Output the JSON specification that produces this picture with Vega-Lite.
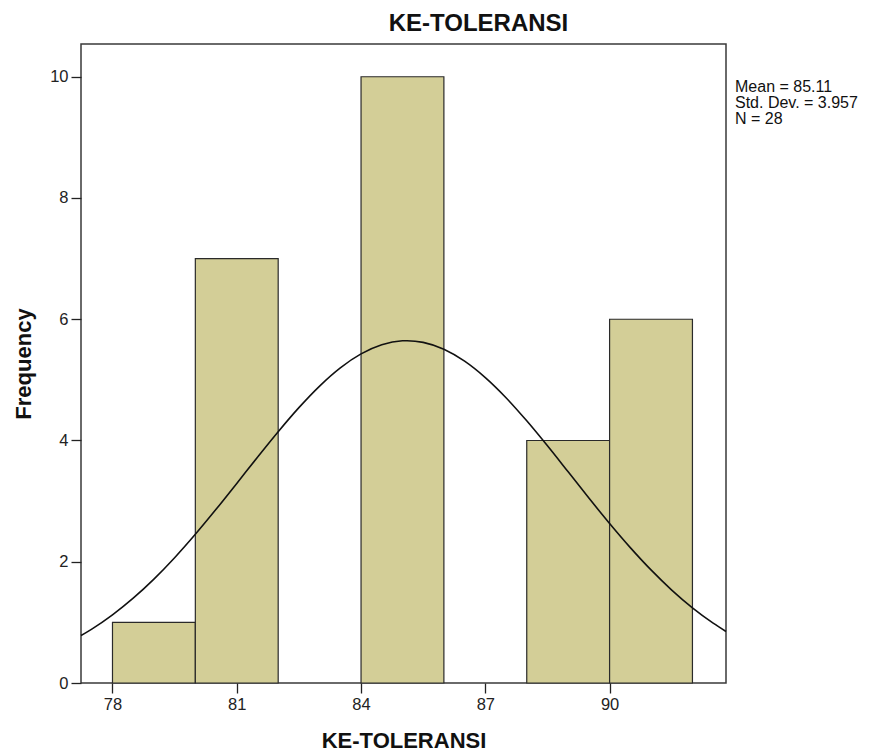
{
  "$schema": "https://vega.github.io/schema/vega-lite/v6.json",
  "width": 645,
  "height": 639,
  "padding": {"left": 12, "top": 12, "right": 0, "bottom": 5},
  "background": "white",
  "title": {"text": "KE-TOLERANSI", "font": "Liberation Sans", "fontSize": 24, "fontWeight": "bold", "color": "#111", "anchor": "middle", "dx": 75, "offset": 8},
  "config": {
    "view": {"fill": "#f0f0f0", "stroke": "#3a3a3a", "strokeWidth": 1.5},
    "axis": {"labelFont": "Liberation Sans", "labelFontSize": 16.5, "labelColor": "#222", "titleFont": "Liberation Sans", "titleFontSize": 22, "titleFontWeight": "bold", "titleColor": "#111", "domain": false, "grid": false, "tickColor": "#222", "tickSize": 10, "tickWidth": 1.3, "labelPadding": 3},
    "legend": {"labelFont": "Liberation Sans", "labelFontSize": 16, "labelColor": "#111"}
  },
  "layer": [
    {
      "data": {"values": [
        {"bin_start": 78, "bin_end": 80, "count": 1},
        {"bin_start": 80, "bin_end": 82, "count": 7},
        {"bin_start": 84, "bin_end": 86, "count": 10},
        {"bin_start": 88, "bin_end": 90, "count": 4},
        {"bin_start": 90, "bin_end": 92, "count": 6}
      ]},
      "mark": {"type": "rect", "fill": "#d3ce97", "stroke": "#2a2a2a", "strokeWidth": 1.2},
      "encoding": {
        "x": {"field": "bin_start", "type": "quantitative", "scale": {"domain": [77.24, 92.81], "nice": false, "zero": false}, "axis": {"values": [78, 81, 84, 87, 90], "title": "KE-TOLERANSI", "titlePadding": 18}},
        "x2": {"field": "bin_end"},
        "y": {"field": "count", "type": "quantitative", "scale": {"domain": [0, 10.54], "nice": false}, "axis": {"values": [0, 2, 4, 6, 8, 10], "title": "Frequency", "titlePadding": 14}}
      }
    },
    {
      "data": {"values": [
        {"x": 77.24, "density": 0.783},
        {"x": 77.5, "density": 0.889},
        {"x": 78, "density": 1.124},
        {"x": 78.5, "density": 1.399},
        {"x": 79, "density": 1.714},
        {"x": 79.5, "density": 2.067},
        {"x": 80, "density": 2.453},
        {"x": 80.5, "density": 2.864},
        {"x": 81, "density": 3.292},
        {"x": 81.5, "density": 3.724},
        {"x": 82, "density": 4.145},
        {"x": 82.5, "density": 4.542},
        {"x": 83, "density": 4.898},
        {"x": 83.5, "density": 5.198},
        {"x": 84, "density": 5.428},
        {"x": 84.5, "density": 5.579},
        {"x": 85, "density": 5.644},
        {"x": 85.11, "density": 5.646},
        {"x": 85.5, "density": 5.619},
        {"x": 86, "density": 5.505},
        {"x": 86.5, "density": 5.308},
        {"x": 87, "density": 5.037},
        {"x": 87.5, "density": 4.705},
        {"x": 88, "density": 4.324},
        {"x": 88.5, "density": 3.912},
        {"x": 89, "density": 3.483},
        {"x": 89.5, "density": 3.051},
        {"x": 90, "density": 2.631},
        {"x": 90.5, "density": 2.233},
        {"x": 91, "density": 1.865},
        {"x": 91.5, "density": 1.533},
        {"x": 92, "density": 1.24},
        {"x": 92.5, "density": 0.987},
        {"x": 92.81, "density": 0.85}
      ]},
      "mark": {"type": "line", "color": "#111", "strokeWidth": 1.6, "interpolate": "monotone"},
      "encoding": {
        "x": {"field": "x", "type": "quantitative", "scale": {"domain": [77.24, 92.81], "nice": false, "zero": false}, "axis": {"values": [78, 81, 84, 87, 90], "title": "KE-TOLERANSI", "titlePadding": 18}},
        "y": {"field": "density", "type": "quantitative", "scale": {"domain": [0, 10.54], "nice": false}, "axis": {"values": [0, 2, 4, 6, 8, 10], "title": "Frequency", "titlePadding": 14}}
      }
    },
    {
      "data": {"values": [
        {"stat": "Mean = 85.11"},
        {"stat": "Std. Dev. = 3.957"},
        {"stat": "N = 28"}
      ]},
      "mark": {"type": "point", "opacity": 0},
      "encoding": {
        "color": {"field": "stat", "type": "nominal", "sort": null, "scale": {"range": ["#111", "#111", "#111"]},
          "legend": {"title": null, "orient": "none", "legendX": 638, "legendY": 35, "symbolSize": 0, "symbolOpacity": 0, "symbolStrokeWidth": 0, "labelOffset": 0, "padding": 0, "rowPadding": 0, "labelLimit": 300}}
      }
    }
  ]
}
